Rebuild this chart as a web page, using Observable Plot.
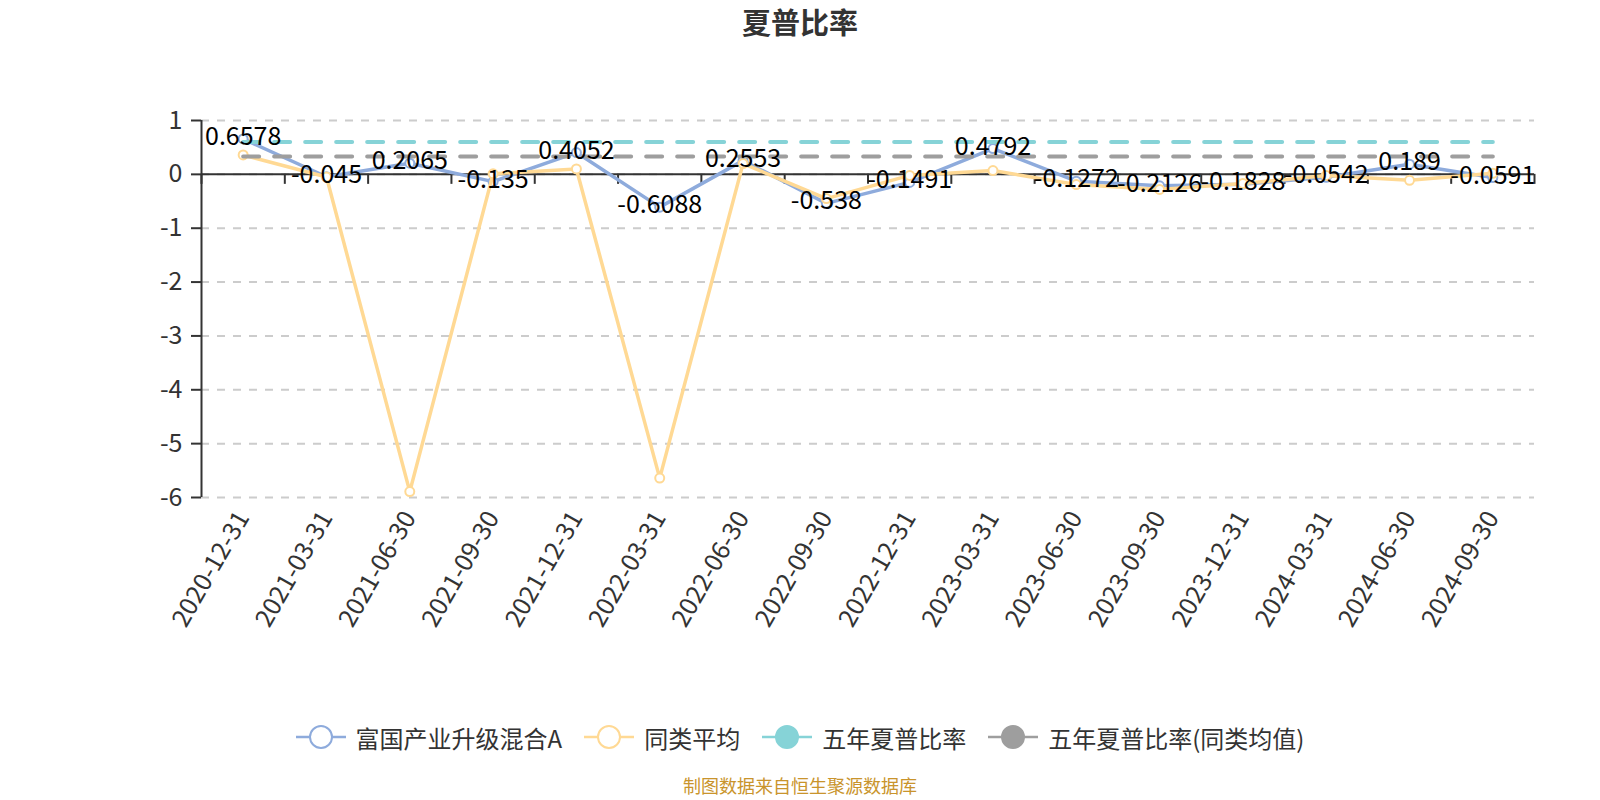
<!DOCTYPE html>
<html>
<head>
<meta charset="utf-8">
<script src="https://cdn.jsdelivr.net/npm/d3@7"></script>
<script src="https://cdn.jsdelivr.net/npm/@observablehq/plot@0.6"></script>
<style>
  html, body { margin: 0; padding: 0; background: #fff; }
  #wrap { position: relative; width: 1600px; height: 800px; overflow: hidden;
          font-family: "Noto Sans CJK SC", "Noto Sans", sans-serif; }
  #title { position: absolute; left: 0; top: 3px; width: 1600px; text-align: center;
           font-size: 29px; font-weight: bold; color: #333; line-height: 36px; }
  #chart { position: absolute; left: 0; top: 50px; }
  #legend { position: absolute; left: 0; top: 717px; width: 1600px; height: 40px;
            display: flex; justify-content: center; align-items: center; gap: 22px;
            font-size: 24px; color: #333; }
  .item { display: flex; align-items: center; gap: 10px; }
  #caption { position: absolute; left: 0; top: 775px; width: 1600px; text-align: center;
             font-size: 18px; line-height: 20px; color: #C9942C; }
</style>
</head>
<body>
<div id="wrap">
  <div id="title"></div>
  <div id="chart"></div>
  <div id="legend"></div>
  <div id="caption"></div>
</div>
<script>
// ---- data ----
const titleText = "夏普比率";
const captionText = "制图数据来自恒生聚源数据库";
const dates = ["2020-12-31","2021-03-31","2021-06-30","2021-09-30","2021-12-31","2022-03-31",
  "2022-06-30","2022-09-30","2022-12-31","2023-03-31","2023-06-30","2023-09-30",
  "2023-12-31","2024-03-31","2024-06-30","2024-09-30"];
const fund = [0.6578, -0.045, 0.2065, -0.135, 0.4052, -0.6088, 0.2553, -0.538,
  -0.1491, 0.4792, -0.1272, -0.2126, -0.1828, -0.0542, 0.189, -0.0591];
const peerAvg = [0.36, -0.05, -5.89, 0.01, 0.1, -5.64, 0.2, -0.45,
  -0.02, 0.07, -0.19, -0.28, -0.17, -0.02, -0.11, 0.02];
const fiveYear = 0.6;
const fiveYearPeer = 0.33;
const yTicks = [1, 0, -1, -2, -3, -4, -5, -6];
const seriesNames = ["富国产业升级混合A", "同类平均", "五年夏普比率", "五年夏普比率(同类均值)"];
const colors = ["#8EABDC", "#FFD994", "#86D3D7", "#9E9E9E"];
const hollow = [true, true, false, false];

// ---- build ----
const rows = dates.map((d, i) => ({i, date: d, fund: fund[i], avg: peerAvg[i],
  five: fiveYear, fivePeer: fiveYearPeer}));
const idx = dates.map((d, i) => i);
const bounds = [-0.5, ...idx.map(i => i + 0.5)];

document.getElementById("title").textContent = titleText;
document.getElementById("caption").textContent = captionText;

const chart = Plot.plot({
  width: 1600,
  height: 600,
  marginLeft: 201,
  marginRight: 66,
  marginTop: 70,
  marginBottom: 153,
  style: {fontFamily: "'Noto Sans CJK SC', 'Noto Sans', sans-serif", fontSize: "25px",
          color: "#333", background: "white", overflow: "visible"},
  x: {type: "linear", domain: [-0.5, dates.length - 0.5], axis: null},
  y: {domain: [-6, 1], axis: null},
  marks: [
    Plot.ruleY(yTicks, {stroke: "#ccc", strokeWidth: 2, strokeDasharray: "8,8"}),
    Plot.ruleY([0], {stroke: "#333", strokeWidth: 2}),
    Plot.ruleX(bounds, {y1: 0, y2: 0, insetBottom: -10, stroke: "#333", strokeWidth: 2}),
    Plot.ruleX([-0.5], {y1: -6, y2: 1, stroke: "#333", strokeWidth: 2}),
    Plot.axisY({ticks: yTicks, tickSize: 10, tickPadding: 9, fontSize: 25, label: null,
                strokeWidth: 2, tickFormat: d => String(d)}),
    Plot.axisX({ticks: idx, tickFormat: i => dates[i], tickRotate: -60, tickSize: 0,
                tickPadding: 16, fontSize: 25, label: null}),
    Plot.line(rows, {x: "i", y: "fund", stroke: colors[0], strokeWidth: 3.5}),
    Plot.dot(rows, {x: "i", y: "fund", r: 4.5, fill: "white", stroke: colors[0], strokeWidth: 2}),
    Plot.line(rows, {x: "i", y: "avg", stroke: colors[1], strokeWidth: 3.5}),
    Plot.dot(rows, {x: "i", y: "avg", r: 4.5, fill: "white", stroke: colors[1], strokeWidth: 2}),
    Plot.line(rows, {x: "i", y: "five", stroke: colors[2], strokeWidth: 4, strokeDasharray: "16,15"}),
    Plot.line(rows, {x: "i", y: "fivePeer", stroke: colors[3], strokeWidth: 4, strokeDasharray: "16,15"}),
    Plot.text(rows, {x: "i", y: "fund", text: d => String(d.fund), fill: "#000", fontSize: 25, dy: -2})
  ]
});
document.getElementById("chart").appendChild(chart);

// legend
const legend = document.getElementById("legend");
seriesNames.forEach((name, k) => {
  const item = document.createElement("div");
  item.className = "item";
  const fill = hollow[k] ? "white" : colors[k];
  item.innerHTML = `<svg width="50" height="26"><line x1="0" x2="50" y1="13" y2="13" stroke="${colors[k]}" stroke-width="2.5"/>` +
    `<circle cx="25" cy="13" r="11" fill="${fill}" stroke="${colors[k]}" stroke-width="2"/></svg>`;
  const span = document.createElement("span");
  span.textContent = name;
  item.appendChild(span);
  legend.appendChild(item);
});
</script>
</body>
</html>
